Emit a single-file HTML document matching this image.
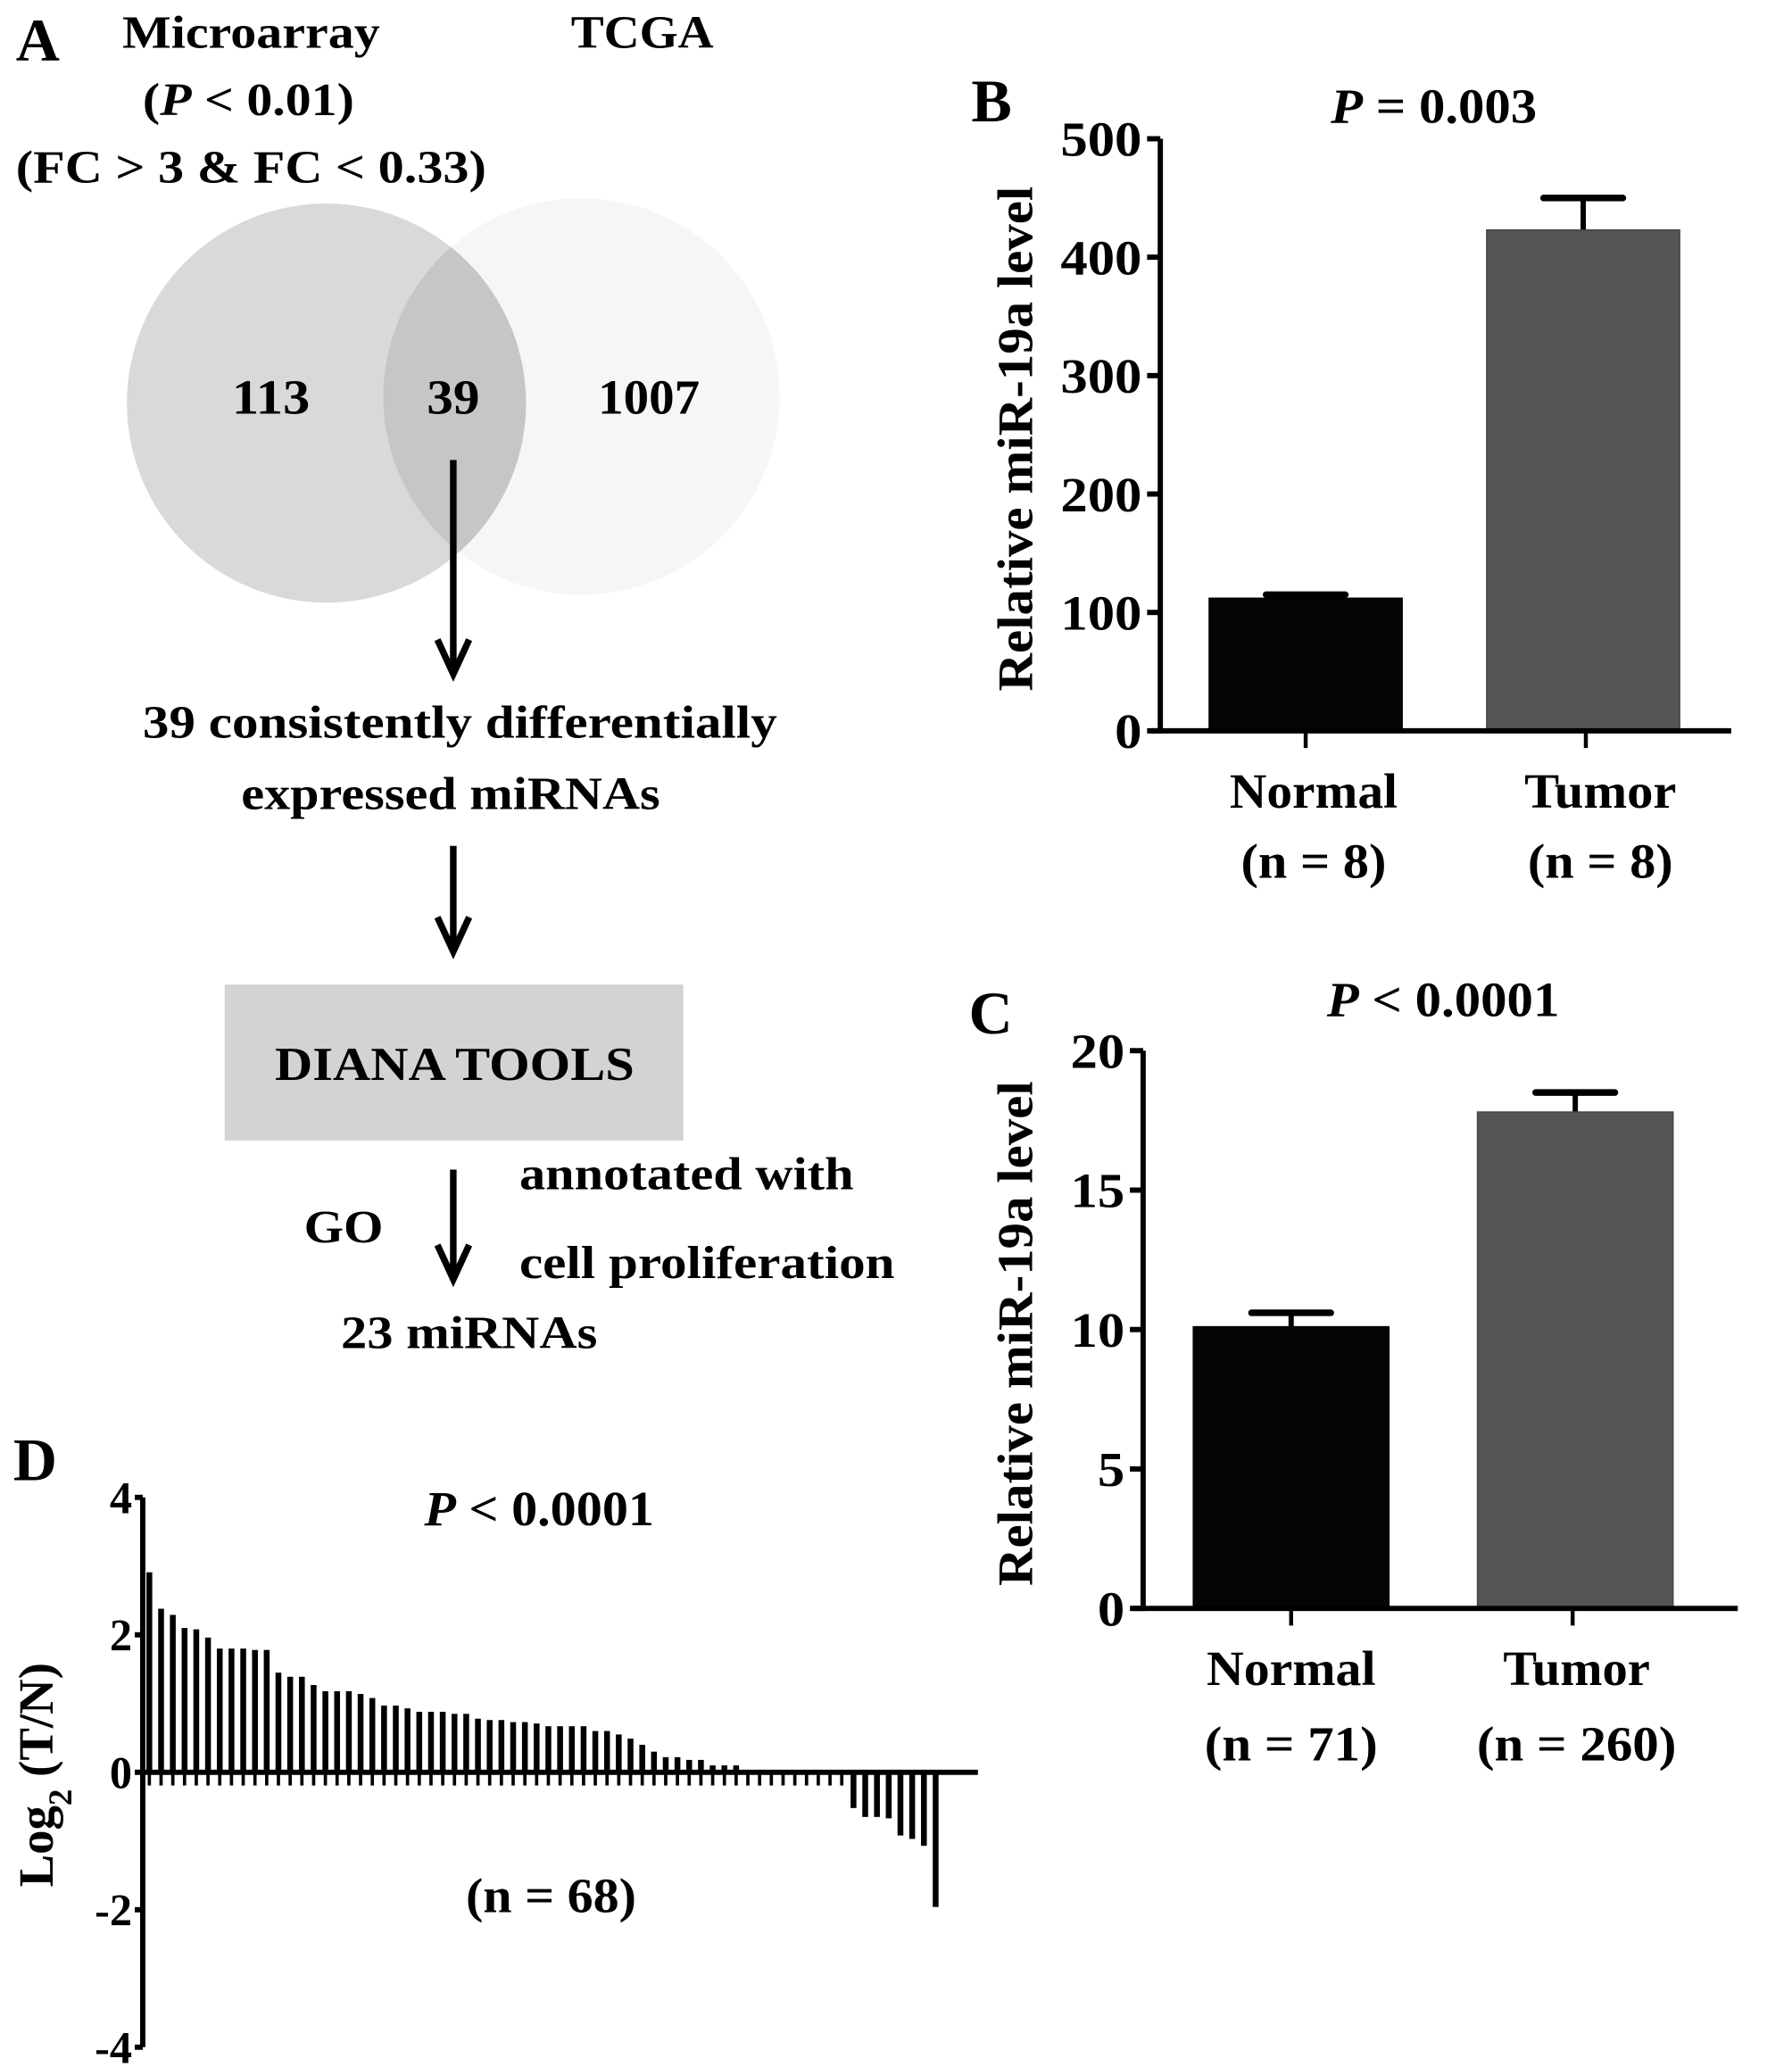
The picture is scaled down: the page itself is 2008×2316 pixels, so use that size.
<!DOCTYPE html>
<html><head><meta charset="utf-8"><style>
html,body{margin:0;padding:0;background:#fff}
svg{display:block}
text{font-family:"Liberation Serif",serif;font-weight:bold;fill:#000}
</style></head><body>
<svg id="fig" width="2008" height="2316" viewBox="0 0 1356 1564" xmlns="http://www.w3.org/2000/svg">
<g>
<text x="12" y="46" font-size="46">A</text>
<text x="190" y="36" font-size="35" text-anchor="middle" textLength="195" lengthAdjust="spacingAndGlyphs">Microarray</text>
<text x="188" y="87" font-size="35" text-anchor="middle" textLength="160" lengthAdjust="spacingAndGlyphs">(<tspan font-style="italic">P</tspan> &lt; 0.01)</text>
<text x="190" y="138" font-size="35" text-anchor="middle" textLength="356" lengthAdjust="spacingAndGlyphs">(FC &gt; 3 &amp; FC &lt; 0.33)</text>
<text x="486" y="36" font-size="35" text-anchor="middle" textLength="108" lengthAdjust="spacingAndGlyphs">TCGA</text>
<defs><clipPath id="lc"><circle cx="247" cy="305" r="151"/></clipPath></defs>
<circle cx="440" cy="300" r="150" fill="#f6f6f6"/>
<circle cx="247" cy="305" r="151" fill="#d9d9d9"/>
<circle cx="440" cy="300" r="150" fill="#c6c6c6" clip-path="url(#lc)"/>
<text x="205" y="313" font-size="37" text-anchor="middle" textLength="59" lengthAdjust="spacingAndGlyphs">113</text>
<text x="343" y="313" font-size="37" text-anchor="middle" textLength="40" lengthAdjust="spacingAndGlyphs">39</text>
<text x="491" y="313" font-size="37" text-anchor="middle" textLength="77" lengthAdjust="spacingAndGlyphs">1007</text>
<g stroke="#000" stroke-width="5" fill="none">
<line x1="343" y1="348" x2="343" y2="510"/><polyline points="331,484 343,510 355,484"/>
<line x1="343" y1="640" x2="343" y2="720"/><polyline points="331,694 343,720 355,694"/>
<line x1="343" y1="885" x2="343" y2="968"/><polyline points="331,942 343,968 355,942"/>
</g>
<text x="348" y="558" font-size="35" text-anchor="middle" textLength="480" lengthAdjust="spacingAndGlyphs">39 consistently differentially</text>
<text x="341" y="612" font-size="35" text-anchor="middle" textLength="317" lengthAdjust="spacingAndGlyphs">expressed miRNAs</text>
<rect x="170" y="745" width="347" height="118" fill="#d3d3d3"/>
<text x="344" y="817" font-size="36" text-anchor="middle" textLength="272" lengthAdjust="spacingAndGlyphs">DIANA TOOLS</text>
<text x="260" y="940" font-size="35" text-anchor="middle" textLength="60" lengthAdjust="spacingAndGlyphs">GO</text>
<text x="393" y="900" font-size="35" textLength="253" lengthAdjust="spacingAndGlyphs">annotated with</text>
<text x="393" y="967" font-size="35" textLength="284" lengthAdjust="spacingAndGlyphs">cell proliferation</text>
<text x="355" y="1020" font-size="35" text-anchor="middle" textLength="194" lengthAdjust="spacingAndGlyphs">23 miRNAs</text>
</g>
<g id="panelB"></g>
<g id="panelC"></g>
<g id="panelD"></g>
</svg>
<script>
const NS="http://www.w3.org/2000/svg";
function mk(parent,tag,attrs,txt){const e=document.createElementNS(NS,tag);for(const k in attrs)e.setAttribute(k,attrs[k]);if(txt!==undefined)e.textContent=txt;parent.appendChild(e);return e;}
function fit(e,w){e.setAttribute('textLength',w);e.setAttribute('lengthAdjust','spacingAndGlyphs');}

// Panel B data
const bCategories=["Normal","Tumor"];
const bNLabels=["(n = 8)","(n = 8)"];
const bValues=[112,423];
const bErrors=[115,450];
const bTicks=[0,100,200,300,400,500];
// Panel C data
const cCategories=["Normal","Tumor"];
const cNLabels=["(n = 71)","(n = 260)"];
const cValues=[10.1,17.8];
const cErrors=[10.6,18.5];
const cTicks=[0,5,10,15,20];
// Panel D data
const dValues=[2.91,2.38,2.29,2.10,2.08,1.96,1.80,1.80,1.80,1.78,1.78,1.45,1.39,1.39,1.27,1.18,1.18,1.18,1.14,1.08,0.97,0.97,0.93,0.88,0.88,0.88,0.85,0.85,0.78,0.76,0.76,0.73,0.73,0.71,0.67,0.67,0.67,0.67,0.60,0.60,0.55,0.49,0.40,0.30,0.22,0.22,0.18,0.18,0.10,0.10,0.10,0.02,0.02,0.02,0.01,0.01,0.01,0.01,0.01,0.01,-0.52,-0.65,-0.65,-0.67,-0.92,-0.97,-1.07,-1.96];
const dTicks=[-4,-2,0,2,4];

function barPanel(g,o){
  const y=v=>o.y0-(v-o.min)/(o.max-o.min)*(o.y0-o.yTop);
  const t=mk(g,'text',{x:o.letterX,y:o.letterY,'font-size':46});
  t.textContent=o.letter;
  
  
  const p=mk(g,'text',{x:o.pX,y:o.pY,'font-size':37,'text-anchor':'middle'});
  p.innerHTML='<tspan font-style="italic">P</tspan> '+o.pText;
  fit(p,o.pW);
  
  
  const yt=mk(g,'text',{x:0,y:0,'font-size':38,'text-anchor':'middle',transform:`translate(${o.titleX},${(o.y0+o.yTop)/2+3}) rotate(-90)`},'Relative miR-19a level');
  fit(yt,382);
  
  
  const ya=mk(g,'line',{x1:o.ax,y1:o.yTop,x2:o.ax,y2:o.y0+2,stroke:'#000','stroke-width':4});
  
  
  o.ticks.forEach(v=>{
    const tk=mk(g,'line',{x1:o.ax-10,y1:y(v),x2:o.ax,y2:y(v),stroke:'#000','stroke-width':4});
    
    
    const s=String(v);
    const tl=mk(g,'text',{x:o.ax-14,y:y(v)+13,'font-size':37,'text-anchor':'end'},s);
    fit(tl,s.length*20.5);
    
    
  });
  o.values.forEach((v,i)=>{
    const cx=o.centers[i];
    const er=mk(g,'line',{x1:cx,y1:y(o.errors[i]),x2:cx,y2:y(v),stroke:'#000','stroke-width':4});
    
    
    const ec=mk(g,'line',{x1:cx-30,y1:y(o.errors[i]),x2:cx+30,y2:y(o.errors[i]),stroke:'#000','stroke-width':5,'stroke-linecap':'round'});
    
    
    const r=mk(g,'rect',{x:cx-o.bw/2,y:y(v),width:o.bw,height:o.y0-y(v),fill:o.colors[i],stroke:i===0?'#000':'#444','stroke-width':1});
    
    
    const xt=mk(g,'line',{x1:o.tickX[i],y1:o.y0,x2:o.tickX[i],y2:o.y0+13,stroke:'#000','stroke-width':3});
    
    
    const l1=mk(g,'text',{x:o.labelX[i],y:o.lab1Y,'font-size':37,'text-anchor':'middle'},o.cats[i]);
    fit(l1,o.catW[i]);
    
    
    const l2=mk(g,'text',{x:o.labelX[i],y:o.lab2Y,'font-size':37,'text-anchor':'middle'},o.nl[i]);
    fit(l2,o.nlW[i]);
    
    
  });
  const xa=mk(g,'line',{x1:o.ax-8,y1:o.y0,x2:o.xEnd,y2:o.y0,stroke:'#000','stroke-width':4});
  
  
}
barPanel(document.getElementById('panelB'),{letter:'B',letterX:735,letterY:92,pX:1085,pY:93,pText:'= 0.003',pW:156,titleX:781,
  ax:878,yTop:105,y0:553,min:0,max:500,ticks:bTicks,values:bValues,errors:bErrors,cats:bCategories,nl:bNLabels,
  centers:[988,1198],bw:146,colors:['#050505','#555555'],tickX:[988,1200],labelX:[994,1211],lab1Y:611,lab2Y:664,xEnd:1310,
  catW:[127,115],nlW:[110,110]});
barPanel(document.getElementById('panelC'),{letter:'C',letterX:733,letterY:782,pX:1092,pY:769,pText:'&lt; 0.0001',pW:176,titleX:781,
  ax:865,yTop:795,y0:1217,min:0,max:20,ticks:cTicks,values:cValues,errors:cErrors,cats:cCategories,nl:cNLabels,
  centers:[977,1192],bw:148,colors:['#050505','#555555'],tickX:[977,1190],labelX:[977,1193],lab1Y:1275,lab2Y:1332,xEnd:1315,
  catW:[128,111],nlW:[131,151]});

// Panel D
(function(){
  const g=document.getElementById('panelD');
  const ax=108,yTop=1133,yBot=1549,minV=-4,maxV=4;
  const y=v=>yBot-(v-minV)/(maxV-minV)*(yBot-yTop);
  const x0=113,step=(708-113)/(dValues.length-1);
  const xs=i=>x0+i*step;
  const L=mk(g,'text',{x:10,y:1120,'font-size':46},'D');
  
  
  const p=mk(g,'text',{x:408,y:1154,'font-size':37,'text-anchor':'middle'});
  p.innerHTML='<tspan font-style="italic">P</tspan> &lt; 0.0001';
  fit(p,174);
  
  
  const yt=mk(g,'text',{x:0,y:0,'font-size':37,'text-anchor':'middle',transform:`translate(40,1343) rotate(-90)`});
  yt.innerHTML='Log<tspan baseline-shift="sub" font-size="25">2</tspan> (T/N)';
  
  
  const ya=mk(g,'line',{x1:ax,y1:yTop,x2:ax,y2:yBot,stroke:'#000','stroke-width':4});
  
  
  dTicks.forEach(v=>{
    const tk=mk(g,'line',{x1:ax-6,y1:y(v),x2:ax,y2:y(v),stroke:'#000','stroke-width':4});
    
    
    const tl=mk(g,'text',{x:ax-8,y:y(v)+12,'font-size':34,'text-anchor':'end'},String(v));
    
    
  });
  dValues.forEach((v,i)=>{
    const top=Math.min(y(v),y(0)),h=Math.max(Math.abs(y(v)-y(0)),1);
    const r=mk(g,'rect',{x:xs(i)-2.2,y:top,width:4.4,height:h,fill:'#000'});
    
    
    const tk=mk(g,'line',{x1:xs(i),y1:y(0),x2:xs(i),y2:y(0)+10,stroke:'#000','stroke-width':2.5});
    
    
  });
  const xa=mk(g,'line',{x1:ax,y1:y(0),x2:740,y2:y(0),stroke:'#000','stroke-width':4});
  
  
  const n=mk(g,'text',{x:417,y:1447,'font-size':37,'text-anchor':'middle'},'(n = 68)');
  fit(n,129);
  
  
})();
</script>
</body></html>
